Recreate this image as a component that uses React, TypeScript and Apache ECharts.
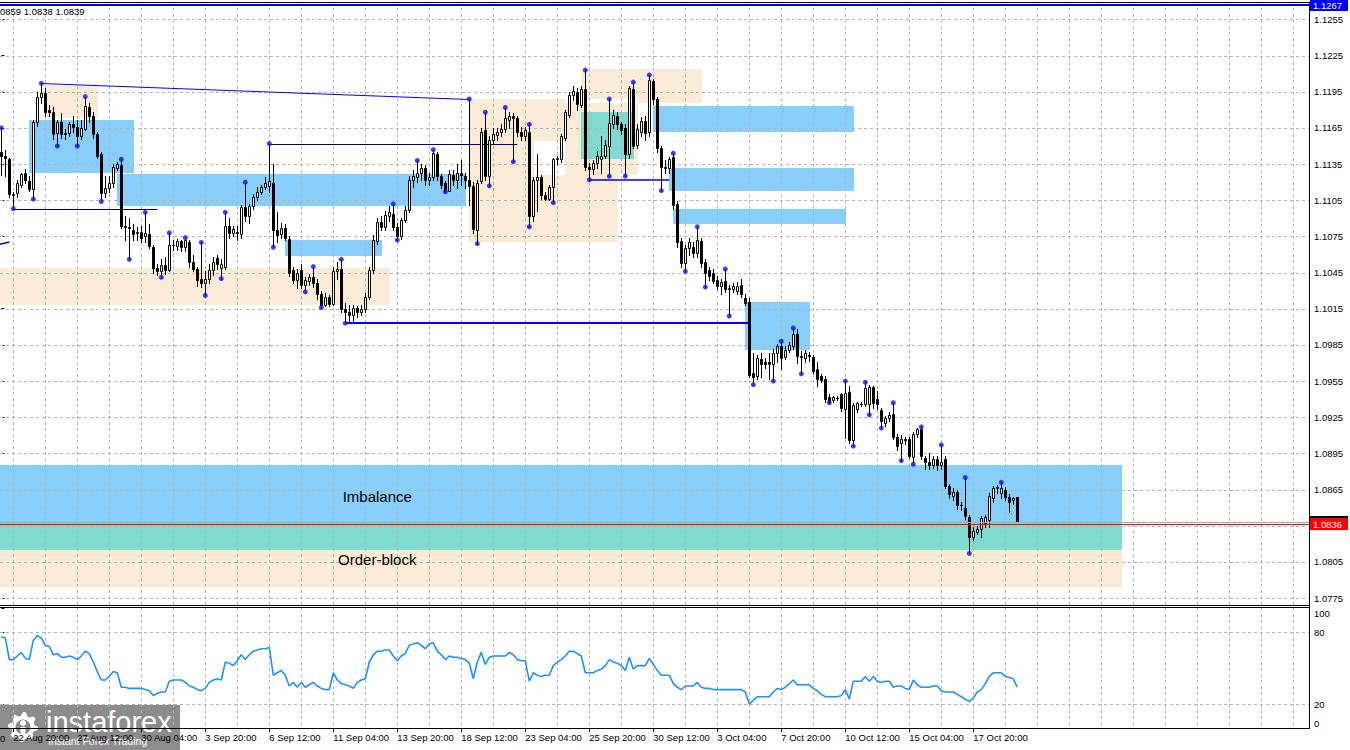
import React, { useEffect, useRef } from "react";
import * as echarts from "echarts";

// ---- H4 candles (prices in 1e-4 units), bar index 0 = 22 Aug 08:00 ----
const OPEN = [
  11145, 11142, 11139, 11110, 11111, 11118, 11128, 11121, 11114, 11170,
  11191, 11194, 11180, 11178, 11161, 11170, 11160, 11161, 11168, 11166,
  11158, 11164, 11182, 11175, 11160, 11143, 11111, 11115, 11119, 11132,
  11134, 11084, 11083, 11080, 11078, 11079, 11075, 11077, 11066, 11049,
  11046, 11051, 11047, 11068, 11067, 11071, 11066, 11070, 11054, 11048,
  11040, 11036, 11040, 11047, 11057, 11049, 11050, 11084, 11078, 11079,
  11077, 11099, 11092, 11100, 11108, 11112, 11116, 11117, 11119, 11080,
  11077, 11082, 11073, 11047, 11039, 11047, 11035, 11038, 11041, 11036,
  11027, 11018, 11025, 11019, 11046, 11048, 11015, 11012, 11010, 11016,
  11012, 11015, 11025, 11047, 11071, 11087, 11083, 11092, 11094, 11083,
  11075, 11089, 11097, 11122, 11124, 11128, 11132, 11122, 11124, 11143,
  11125, 11119, 11113, 11126, 11122, 11128, 11125, 11122, 11117, 11080,
  11121, 11163, 11125, 11155, 11159, 11162, 11164, 11172, 11175, 11173,
  11162, 11158, 11162, 11092, 11122, 11124, 11109, 11106, 11116, 11139,
  11139, 11157, 11176, 11192, 11195, 11184, 11197, 11133, 11131, 11136,
  11139, 11142, 11150, 11168, 11175, 11168, 11165, 11143, 11197, 11151,
  11162, 11171, 11162, 11204, 11189, 11148, 11133, 11132, 11141, 11102,
  11071, 11053, 11065, 11066, 11061, 11071, 11054, 11047, 11045, 11039,
  11034, 11038, 11031, 11031, 11030, 11035, 11024, 11021, 10962, 10959,
  10973, 10971, 10971, 10969, 10978, 10984, 10975, 10981, 10984, 10994,
  10976, 10974, 10977, 10975, 10965, 10959, 10957, 10942, 10939, 10941,
  10944, 10932, 10946, 10906, 10932, 10936, 10936, 10936, 10950, 10940,
  10931, 10920, 10924, 10928, 10909, 10904, 10907, 10907, 10892, 10911,
  10915, 10891, 10888, 10885, 10890, 10885, 10890, 10868, 10860, 10863,
  10852, 10850, 10842, 10826, 10830, 10832, 10837, 10840, 10858, 10866,
  10862, 10865, 10859, 10856, 10859,
];
const HIGH = [
  11165, 11147, 11140, 11112, 11122, 11128, 11131, 11125, 11172, 11195,
  11202, 11198, 11184, 11182, 11172, 11177, 11164, 11170, 11175, 11172,
  11172, 11191, 11186, 11178, 11162, 11145, 11125, 11125, 11135, 11137,
  11139, 11092, 11090, 11085, 11083, 11084, 11095, 11085, 11068, 11052,
  11056, 11058, 11078, 11072, 11073, 11072, 11074, 11072, 11060, 11050,
  11070, 11046, 11052, 11058, 11060, 11056, 11095, 11090, 11084, 11084,
  11101, 11120, 11102, 11110, 11116, 11118, 11124, 11152, 11135, 11095,
  11086, 11085, 11075, 11050, 11048, 11052, 11041, 11044, 11050, 11040,
  11030, 11028, 11026, 11050, 11054, 11056, 11020, 11018, 11018, 11017,
  11018, 11028, 11050, 11076, 11090, 11092, 11096, 11100, 11102, 11086,
  11090, 11100, 11125, 11130, 11138, 11135, 11134, 11128, 11147, 11145,
  11127, 11121, 11130, 11130, 11135, 11138, 11128, 11189, 11120, 11122,
  11165, 11178, 11158, 11165, 11165, 11168, 11182, 11178, 11177, 11175,
  11166, 11166, 11168, 11124, 11143, 11126, 11112, 11118, 11140, 11142,
  11160, 11180, 11195, 11200, 11198, 11200, 11213, 11136, 11138, 11146,
  11158, 11155, 11189, 11180, 11178, 11170, 11168, 11200, 11203, 11168,
  11174, 11175, 11209, 11206, 11191, 11150, 11138, 11141, 11144, 11104,
  11074, 11068, 11074, 11070, 11083, 11074, 11056, 11050, 11048, 11042,
  11040, 11048, 11035, 11036, 11037, 11040, 11027, 11024, 10978, 10977,
  10978, 10974, 10978, 10982, 10986, 10988, 10984, 10987, 10999, 10998,
  10980, 10981, 10979, 10977, 10971, 10961, 10959, 10944, 10943, 10943,
  10945, 10955, 10951, 10937, 10938, 10938, 10954, 10952, 10951, 10947,
  10933, 10926, 10929, 10937, 10911, 10910, 10909, 10909, 10913, 10916,
  10917, 10893, 10895, 10893, 10893, 10902, 10893, 10870, 10866, 10865,
  10855, 10875, 10844, 10834, 10835, 10843, 10844, 10862, 10868, 10869,
  10871, 10867, 10861, 10859, 10859,
];
const LOW = [
  11126, 11125, 11108, 11098, 11108, 11116, 11119, 11113, 11106, 11167,
  11186, 11175, 11175, 11156, 11150, 11157, 11156, 11158, 11162, 11150,
  11156, 11163, 11170, 11157, 11140, 11104, 11108, 11112, 11116, 11130,
  11082, 11072, 11056, 11072, 11072, 11070, 11070, 11065, 11045, 11043,
  11041, 11044, 11046, 11064, 11064, 11063, 11063, 11050, 11046, 11034,
  11033, 11026, 11036, 11043, 11048, 11040, 11048, 11074, 11075, 11072,
  11074, 11088, 11086, 11098, 11105, 11110, 11114, 11112, 11066, 11070,
  11074, 11072, 11042, 11036, 11032, 11032, 11029, 11035, 11033, 11023,
  11016, 11017, 11017, 11018, 11040, 11012, 11003, 11005, 11005, 11008,
  11010, 11012, 11023, 11045, 11069, 11080, 11080, 11088, 11080, 11072,
  11073, 11087, 11095, 11116, 11120, 11122, 11118, 11118, 11122, 11122,
  11115, 11112, 11113, 11118, 11115, 11118, 11115, 11101, 11078, 11069,
  11119, 11122, 11117, 11152, 11155, 11158, 11162, 11165, 11137, 11158,
  11155, 11155, 11083, 11088, 11096, 11106, 11105, 11105, 11103, 11135,
  11137, 11155, 11174, 11188, 11180, 11182, 11130, 11122, 11127, 11132,
  11128, 11140, 11125, 11165, 11164, 11160, 11125, 11140, 11148, 11148,
  11158, 11155, 11158, 11185, 11145, 11113, 11128, 11128, 11098, 11066,
  11050, 11046, 11060, 11058, 11058, 11050, 11033, 11039, 11036, 11031,
  11027, 11029, 11009, 11029, 11027, 11025, 11018, 10958, 10952, 10957,
  10958, 10966, 10957, 10955, 10971, 10965, 10973, 10979, 10982, 10970,
  10961, 10971, 10972, 10962, 10951, 10954, 10938, 10937, 10938, 10939,
  10930, 10908, 10904, 10901, 10929, 10934, 10934, 10927, 10933, 10932,
  10916, 10918, 10922, 10907, 10898, 10889, 10903, 10891, 10886, 10909,
  10890, 10882, 10882, 10883, 10881, 10882, 10866, 10858, 10856, 10849,
  10848, 10840, 10812, 10823, 10828, 10826, 10834, 10834, 10855, 10862,
  10858, 10856, 10846, 10853, 10838,
];
const CLOSE = [
  11142, 11140, 11110, 11109, 11119, 11127, 11122, 11114, 11170, 11191,
  11194, 11178, 11178, 11160, 11170, 11160, 11161, 11168, 11166, 11158,
  11165, 11183, 11175, 11160, 11142, 11111, 11115, 11119, 11133, 11135,
  11084, 11083, 11082, 11077, 11079, 11074, 11078, 11067, 11049, 11046,
  11051, 11047, 11068, 11068, 11071, 11066, 11072, 11054, 11048, 11039,
  11036, 11040, 11047, 11054, 11052, 11052, 11084, 11078, 11081, 11078,
  11099, 11092, 11100, 11108, 11112, 11116, 11119, 11121, 11080, 11076,
  11082, 11074, 11045, 11039, 11045, 11035, 11039, 11041, 11036, 11027,
  11018, 11025, 11019, 11046, 11048, 11015, 11012, 11010, 11016, 11012,
  11015, 11025, 11047, 11072, 11087, 11083, 11093, 11095, 11083, 11075,
  11089, 11097, 11122, 11125, 11128, 11132, 11122, 11124, 11144, 11125,
  11118, 11113, 11127, 11122, 11128, 11126, 11122, 11117, 11081, 11119,
  11162, 11125, 11155, 11160, 11162, 11164, 11173, 11175, 11173, 11162,
  11158, 11163, 11092, 11122, 11124, 11109, 11106, 11116, 11139, 11140,
  11158, 11178, 11192, 11196, 11185, 11197, 11133, 11131, 11136, 11142,
  11142, 11151, 11169, 11176, 11168, 11163, 11143, 11198, 11150, 11164,
  11171, 11161, 11205, 11189, 11148, 11133, 11132, 11139, 11101, 11070,
  11053, 11065, 11070, 11061, 11072, 11053, 11045, 11042, 11038, 11034,
  11037, 11031, 11032, 11034, 11034, 11027, 11020, 10960, 10958, 10974,
  10969, 10969, 10969, 10978, 10984, 10974, 10981, 10985, 10994, 10976,
  10975, 10978, 10976, 10963, 10957, 10956, 10940, 10938, 10942, 10941,
  10933, 10945, 10906, 10935, 10937, 10936, 10949, 10950, 10937, 10936,
  10922, 10924, 10927, 10909, 10901, 10907, 10906, 10893, 10911, 10915,
  10893, 10888, 10885, 10890, 10885, 10888, 10868, 10861, 10863, 10852,
  10852, 10843, 10826, 10831, 10832, 10841, 10842, 10860, 10866, 10867,
  10866, 10859, 10855, 10858, 10839,
];

// ---- oscillator (0..100) per bar ----
const OSC = [
  76, 75, 57, 57, 60, 63, 58, 57, 73, 77,
  75, 69, 68, 61, 62, 59, 59, 60, 59, 57,
  60, 64, 62, 55, 47, 40, 40, 43, 47, 46,
  34, 34, 33, 33, 33, 33, 32, 31, 27, 29,
  30, 30, 39, 40, 40, 40, 38, 35, 34, 32,
  31, 33, 38, 40, 41, 40, 55, 54, 52, 56,
  61, 57, 61, 64, 65, 66, 66, 67, 44, 46,
  48, 44, 35, 38, 34, 38, 34, 36, 38, 35,
  33, 32, 32, 46, 40, 37, 36, 35, 33, 38,
  40, 41, 55, 61, 64, 64, 65, 65, 60, 56,
  60, 62, 69, 70, 71, 69, 66, 70, 71, 64,
  61, 57, 60, 59, 59, 58, 57, 54, 41, 55,
  63, 53, 59, 60, 60, 60, 60, 63, 61, 57,
  56, 56, 39, 46, 44, 43, 44, 44, 52, 55,
  57, 60, 64, 64, 62, 60, 46, 46, 46, 48,
  49, 52, 57, 55, 54, 52, 48, 59, 49, 52,
  52, 52, 58, 53, 48, 44, 44, 44, 37, 34,
  32, 35, 35, 35, 38, 34, 33, 33, 32, 32,
  32, 32, 32, 32, 32, 32, 30, 20, 23, 26,
  26, 26, 26, 30, 33, 32, 34, 37, 40, 36,
  36, 36, 36, 33, 31, 28, 26, 26, 26, 26,
  27, 32, 24, 39, 39, 39, 43, 39, 43, 39,
  38, 39, 39, 34, 35, 35, 33, 32, 40, 36,
  34, 34, 34, 35, 35, 31, 30, 30, 30, 28,
  26, 24, 22, 25, 30, 32, 37, 43, 46, 46,
  46, 43, 42, 41, 34,
];

// fractal markers (bar indices)
const FRACTAL_UP = [0, 10, 21, 30, 36, 42, 46, 50, 56, 61, 67, 78, 85, 98, 104, 108, 117, 121, 126, 132, 146, 152, 158, 162, 168, 174, 181, 195, 198, 211, 216, 223, 230, 235, 241, 250];
const FRACTAL_DOWN = [3, 8, 14, 19, 25, 32, 40, 51, 55, 68, 76, 80, 86, 99, 111, 119, 122, 128, 132, 138, 147, 152, 156, 165, 171, 176, 182, 188, 193, 200, 207, 213, 217, 220, 225, 228, 242];

// zones: [fromBar, toBar, upperPrice, lowerPrice] (1e-4 units)
const BEIGE_ZONES = [
  [11, 24, 11201, 11173],
  [-2, 97, 11049, 11018],
  [-2, 280, 10815, 10784],
  [117, 141, 11189, 11154],
  [117, 133, 11154, 11126],
  [117, 154, 11126, 11070],
  [141, 159, 11186, 11126],
  [145, 175, 11214, 11189],
  [159, 175, 11189, 11186],
];
const BLUE_ZONES = [
  [7, 33, 11172, 11128],
  [29, 116, 11127, 11100],
  [71, 95, 11072, 11059],
  [163, 213, 11183, 11162],
  [167, 213, 11132, 11113],
  [168, 211, 11098, 11085],
  [186, 202, 11021, 10981],
  [-2, 280, 10885, 10838],
];
const TEAL_ZONES = [
  [-2, 280, 10838, 10815],
  [145, 158, 11178, 11139],
];

const ZONE_LABELS = ["Imbalance", "Order-block"];
const ZONE_LABEL_AT = [[94, 10859], [94, 10807]];

// drawn lines: [fromBar, fromPrice, toBar, toPrice]
const TREND_THIN = [[10, 11202, 117, 11189]];
const LEVELS_DARK = [[3, 11098, 39, 11098], [67, 11152, 129, 11152]];
const LEVELS_BLUE = [[147, 11122, 167, 11122], [-1, 11068, 2, 11070]];
const LEVELS_THICK = [[86, 11003, 187, 11003]];

const LEVEL_TOP = 1.1267;
const BID_PRICE = 1.08378;
const ASK_PRICE = 1.0836;

const PRICE_GRID = [1.0775, 1.0805, 1.0835, 1.0865, 1.0895, 1.0925, 1.0955, 1.0985, 1.1015, 1.1045, 1.1075, 1.1105, 1.1135, 1.1165, 1.1195, 1.1225, 1.1255];
const PRICE_LABELS = [1.0775, 1.0805, 1.0865, 1.0895, 1.0925, 1.0955, 1.0985, 1.1015, 1.1045, 1.1075, 1.1105, 1.1135, 1.1165, 1.1195, 1.1225, 1.1255];
const OSC_LABELS = [0, 20, 80, 100];
const OSC_GRID = [20, 80];

const LABEL_BARS = [3, 19, 35, 51, 67, 83, 99, 115, 131, 147, 163, 179, 195, 211, 227, 243];
const TIME_LABELS = ["22 Aug 20:00", "27 Aug 12:00", "30 Aug 04:00", "3 Sep 20:00", "6 Sep 12:00", "11 Sep 04:00", "13 Sep 20:00", "18 Sep 12:00", "23 Sep 04:00", "25 Sep 20:00", "30 Sep 12:00", "3 Oct 04:00", "7 Oct 20:00", "10 Oct 12:00", "15 Oct 04:00", "17 Oct 20:00"];

const X_MIN = -0.325;
const X_MAX = 326.925;
const Y_MIN = 1.07692;
const Y_MAX = 1.12695;
const FONT = "Liberation Sans, Arial, sans-serif";

const P = (v: number) => v / 10000;

function buildOption() {
  const gridBars: number[] = [];
  for (let b = 3; b <= X_MAX; b += 8) gridBars.push(b);

  const candleData = OPEN.map((o, i) => [i, P(o), P(HIGH[i]), P(LOW[i]), P(CLOSE[i])]);

  const zoneSeries = (data: number[][], color: string, z: number) => ({
    type: "custom",
    xAxisIndex: 0,
    yAxisIndex: 0,
    z,
    clip: true,
    silent: true,
    data: data.map((r) => [r[0], r[1], P(r[2]), P(r[3])]),
    encode: { x: [0, 1], y: [2, 3] },
    renderItem: (params: any, api: any) => {
      const a = api.coord([api.value(0), api.value(2)]);
      const b = api.coord([api.value(1), api.value(3)]);
      const x1 = Math.floor(a[0]);
      const x2 = Math.floor(b[0]) + 1;
      const y1 = Math.round(a[1]);
      const y2 = Math.round(b[1]);
      return { type: "rect", shape: { x: x1, y: y1, width: x2 - x1, height: y2 - y1 }, style: { fill: color } };
    },
  });

  const lineSeries = (data: number[][], color: string, width: number) => ({
    type: "custom",
    xAxisIndex: 0,
    yAxisIndex: 0,
    z: 3,
    clip: true,
    silent: true,
    data: data.map((r) => [r[0], P(r[1]), r[2], P(r[3])]),
    encode: { x: [0, 2], y: [1, 3] },
    renderItem: (params: any, api: any) => {
      const a = api.coord([api.value(0), api.value(1)]);
      const b = api.coord([api.value(2), api.value(3)]);
      const off = width % 2 === 1 ? 0.5 : 0;
      return {
        type: "line",
        shape: { x1: a[0], y1: Math.round(a[1]) + off, x2: b[0], y2: Math.round(b[1]) + off },
        style: { stroke: color, lineWidth: width },
      };
    },
  });

  const priceLine = (value: number, color: string, width: number, labelBg: string, z: number) => ({
    type: "custom",
    xAxisIndex: 0,
    yAxisIndex: 0,
    z,
    clip: false,
    silent: true,
    data: [[0, value]],
    encode: { x: 0, y: 1 },
    renderItem: (params: any, api: any) => {
      const y = Math.round(api.coord([api.value(0), api.value(1)])[1]);
      const cs = params.coordSys;
      const off = width % 2 === 1 ? 0.5 : 0;
      const right = cs.x + cs.width;
      return {
        type: "group",
        children: [
          { type: "line", shape: { x1: cs.x, y1: y + off, x2: right, y2: y + off }, style: { stroke: color, lineWidth: width } },
          { type: "rect", shape: { x: right + 1, y: y - 6, width: 38, height: 12 }, style: { fill: labelBg } },
          {
            type: "text",
            style: { text: api.value(1).toFixed(4), x: right + 4, y: y, verticalAlign: "middle", align: "left", fill: "#ffffff", font: `9.5px ${FONT}` },
          },
        ],
      };
    },
  });

  const vGrid = (xi: number, yi: number) => ({
    type: "custom",
    xAxisIndex: xi,
    yAxisIndex: yi,
    z: 2,
    silent: true,
    data: gridBars.map((b) => [b, yi === 0 ? Y_MIN : 0]),
    encode: { x: 0, y: 1 },
    renderItem: (params: any, api: any) => {
      const x = Math.floor(api.coord([api.value(0), api.value(1)])[0]) + 0.5;
      const cs = params.coordSys;
      return { type: "line", shape: { x1: x, y1: cs.y, x2: x, y2: cs.y + cs.height }, style: { stroke: "#b4b4b4", lineWidth: 1, lineDash: [3, 3] } };
    },
  });

  const hGrid = (yi: number, values: number[]) => ({
    type: "custom",
    xAxisIndex: yi,
    yAxisIndex: yi,
    z: 2,
    silent: true,
    data: values.map((v) => [0, v]),
    encode: { x: 0, y: 1 },
    renderItem: (params: any, api: any) => {
      const y = Math.round(api.coord([api.value(0), api.value(1)])[1]) + 0.5;
      const cs = params.coordSys;
      return { type: "line", shape: { x1: cs.x, y1: y, x2: cs.x + cs.width, y2: y }, style: { stroke: "#b4b4b4", lineWidth: 1, lineDash: [3, 3] } };
    },
  });

  // gear points for watermark icon
  const gear: number[][] = [];
  for (let k = 0; k < 32; k++) {
    const ang = (k / 32) * Math.PI * 2;
    const r = k % 4 < 2 ? 15 : 11.5;
    gear.push([23 + r * Math.cos(ang), 727 + r * Math.sin(ang)]);
  }

  return {
    animation: false,
    backgroundColor: "#ffffff",
    textStyle: { fontFamily: FONT },
    grid: [
      { left: 0, top: 2, width: 1309, height: 603, containLabel: false, outerBoundsMode: "none" },
      { left: 0, top: 608, width: 1309, height: 120, containLabel: false, outerBoundsMode: "none" },
    ],
    xAxis: [
      {
        type: "value", gridIndex: 0, min: X_MIN, max: X_MAX,
        axisLine: { show: false }, axisTick: { show: false }, axisLabel: { show: false }, splitLine: { show: false },
      },
      {
        type: "value", gridIndex: 1, min: X_MIN, max: X_MAX,
        axisLine: { show: false },
        axisTick: { show: true, customValues: LABEL_BARS, length: 4, lineStyle: { color: "#000" } },
        axisLabel: {
          show: true, customValues: LABEL_BARS, align: "left", margin: 4,
          fontSize: 9.5, fontFamily: FONT, color: "#000",
          formatter: (v: number) => TIME_LABELS[LABEL_BARS.indexOf(Math.round(v))] || "",
        },
        splitLine: { show: false },
      },
    ],
    yAxis: [
      {
        type: "value", gridIndex: 0, position: "right", min: Y_MIN, max: Y_MAX,
        axisLine: { show: false },
        axisTick: { show: true, customValues: PRICE_LABELS, length: 3, lineStyle: { color: "#000" } },
        axisLabel: {
          show: true, customValues: PRICE_LABELS, margin: 5, fontSize: 9.5, fontFamily: FONT, color: "#000",
          formatter: (v: number) => v.toFixed(4),
        },
        splitLine: { show: false },
      },
      {
        type: "value", gridIndex: 1, position: "right", min: 0, max: 100,
        axisLine: { show: false },
        axisTick: { show: true, customValues: OSC_LABELS, length: 3, lineStyle: { color: "#000" } },
        axisLabel: {
          show: true, customValues: OSC_LABELS, margin: 5, fontSize: 9.5, fontFamily: FONT, color: "#000",
          verticalAlignMaxLabel: "top", verticalAlignMinLabel: "bottom",
        },
        splitLine: { show: false },
      },
    ],
    series: [
      zoneSeries(BEIGE_ZONES, "#FAEBD7", 1),
      zoneSeries(BLUE_ZONES, "#87CEFA", 1),
      zoneSeries(TEAL_ZONES, "#80DAD0", 1),
      vGrid(0, 0),
      hGrid(0, PRICE_GRID),
      vGrid(1, 1),
      hGrid(1, OSC_GRID),
      lineSeries(TREND_THIN, "#0000ff", 1),
      lineSeries(LEVELS_DARK, "#00008b", 1),
      lineSeries(LEVELS_BLUE, "#0000e0", 1.5),
      lineSeries(LEVELS_THICK, "#0000ff", 2),
      {
        type: "custom",
        xAxisIndex: 0,
        yAxisIndex: 0,
        z: 3,
        silent: true,
        data: ZONE_LABEL_AT.map((r) => [r[0], P(r[1])]),
        encode: { x: 0, y: 1 },
        renderItem: (params: any, api: any) => {
          const p = api.coord([api.value(0), api.value(1)]);
          return {
            type: "text",
            style: { text: ZONE_LABELS[params.dataIndex], x: p[0], y: p[1], align: "center", verticalAlign: "middle", fill: "#000", font: `15px ${FONT}` },
          };
        },
      },
      {
        type: "custom",
        name: "EURUSD H4",
        xAxisIndex: 0,
        yAxisIndex: 0,
        z: 4,
        silent: true,
        clip: true,
        data: candleData,
        encode: { x: 0, y: [1, 2, 3, 4] },
        renderItem: (params: any, api: any) => {
          const i = api.value(0);
          const o = api.value(1);
          const h = api.value(2);
          const l = api.value(3);
          const c = api.value(4);
          const po = api.coord([i, o]);
          const pc = api.coord([i, c]);
          const ph = api.coord([i, Math.max(h, o, c)]);
          const pl = api.coord([i, Math.min(l, o, c)]);
          const px = Math.floor(po[0]);
          const top = Math.round(Math.min(po[1], pc[1]));
          const bot = Math.round(Math.max(po[1], pc[1]));
          const children: any[] = [
            { type: "line", shape: { x1: px + 0.5, y1: Math.round(ph[1]), x2: px + 0.5, y2: Math.round(pl[1]) + 1 }, style: { stroke: "#000", lineWidth: 1 } },
          ];
          if (bot - top < 1) {
            children.push({ type: "line", shape: { x1: px - 1, y1: top + 0.5, x2: px + 2, y2: top + 0.5 }, style: { stroke: "#000", lineWidth: 1 } });
          } else {
            children.push({
              type: "rect",
              shape: { x: px - 0.5, y: top + 0.5, width: 2, height: bot - top },
              style: { fill: c > o ? "#ffffff" : "#000000", stroke: "#000", lineWidth: 1 },
            });
          }
          return { type: "group", children };
        },
      },
      {
        type: "scatter",
        name: "fractal up",
        xAxisIndex: 0,
        yAxisIndex: 0,
        z: 5,
        silent: true,
        symbol: "circle",
        symbolSize: 5,
        itemStyle: { color: "#1010ff" },
        data: FRACTAL_UP.map((i) => [i, P(HIGH[i])]),
      },
      {
        type: "scatter",
        name: "fractal down",
        xAxisIndex: 0,
        yAxisIndex: 0,
        z: 5,
        silent: true,
        symbol: "circle",
        symbolSize: 5,
        itemStyle: { color: "#1010ff" },
        data: FRACTAL_DOWN.map((i) => [i, P(LOW[i])]),
      },
      priceLine(LEVEL_TOP, "#0000ff", 2, "#0000ff", 6),
      priceLine(BID_PRICE, "#a8a8a8", 1, "#000000", 6),
      priceLine(ASK_PRICE, "#ff0000", 1, "#ff0000", 7),
      {
        type: "line",
        name: "oscillator",
        xAxisIndex: 1,
        yAxisIndex: 1,
        z: 4,
        silent: true,
        showSymbol: false,
        symbol: "none",
        lineStyle: { color: "#1e90ff", width: 1.6 },
        data: OSC.map((v, i) => [i, v]),
      },
    ],
    graphic: [
      { type: "line", z: 50, silent: true, shape: { x1: 0, y1: 2.5, x2: 1310, y2: 2.5 }, style: { stroke: "#000", lineWidth: 1 } },
      { type: "line", z: 50, silent: true, shape: { x1: 0, y1: 605.5, x2: 1310, y2: 605.5 }, style: { stroke: "#000", lineWidth: 1 } },
      { type: "line", z: 50, silent: true, shape: { x1: 0, y1: 607.5, x2: 1310, y2: 607.5 }, style: { stroke: "#000", lineWidth: 1 } },
      { type: "line", z: 50, silent: true, shape: { x1: 0, y1: 728.5, x2: 1310, y2: 728.5 }, style: { stroke: "#000", lineWidth: 1 } },
      { type: "line", z: 50, silent: true, shape: { x1: 1309.5, y1: 2, x2: 1309.5, y2: 729 }, style: { stroke: "#000", lineWidth: 1 } },
      { type: "text", z: 50, silent: true, x: 0, y: 11, style: { text: "0859 1.0838 1.0839", fill: "#000", font: `9.5px ${FONT}`, verticalAlign: "middle" } },
      { type: "text", z: 50, silent: true, x: 0, y: 738, style: { text: "0", fill: "#000", font: `9.5px ${FONT}`, verticalAlign: "middle" } },
      {
        type: "group",
        z: 100,
        silent: true,
        children: [
          { type: "rect", shape: { x: 0, y: 705, width: 180, height: 45 }, style: { fill: "rgba(70,70,70,0.62)" } },
          { type: "polygon", shape: { points: gear }, style: { fill: "#ffffff" } },
          { type: "circle", shape: { cx: 23, cy: 727, r: 7.5 }, style: { fill: "#8a8a8a" } },
          { type: "circle", shape: { cx: 23, cy: 723, r: 3 }, style: { fill: "#ffffff" } },
          { type: "rect", shape: { x: 20.5, y: 727, width: 5, height: 12 }, style: { fill: "#ffffff" } },
          { type: "text", x: 46, y: 736, style: { text: "instaforex", fill: "#ffffff", font: `29px ${FONT}`, verticalAlign: "bottom" } },
          { type: "text", x: 48, y: 746, style: { text: "Instant Forex Trading", fill: "#ffffff", font: `10.5px ${FONT}`, verticalAlign: "bottom" } },
        ],
      },
    ],
  };
}

export default function App() {
  const ref = useRef<HTMLDivElement>(null);
  useEffect(() => {
    document.body.style.margin = "0";
    const chart = echarts.init(ref.current as HTMLDivElement, null, { renderer: "svg" });
    chart.setOption(buildOption() as any);
    return () => chart.dispose();
  }, []);
  return <div ref={ref} style={{ position: "fixed", left: 0, top: 0, width: 1350, height: 750, background: "#fff" }} />;
}
